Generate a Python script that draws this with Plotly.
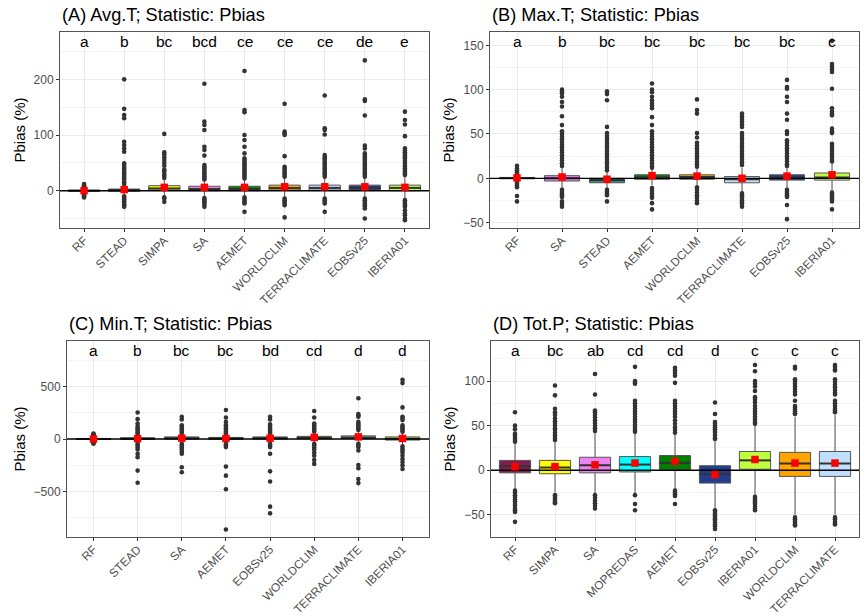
import plotly.graph_objects as go

W, H = 867, 616

COLORS = {
    "RF": "#7F1D4E", "STEAD": "#2F8585", "SIMPA": "#FFFF00", "SA": "#EE82EE",
    "MOPREDAS": "#00FFFF", "AEMET": "#008000", "EOBSv25": "#223D8E",
    "IBERIA01": "#C0FF3E", "WORLDCLIM": "#FFA500", "TERRACLIMATE": "#BFDFFF",
}

# ---------------- Panel A: Avg.T ----------------
a_title = "(A) Avg.T; Statistic: Pbias"
a_cats = ["RF", "STEAD", "SIMPA", "SA", "AEMET", "WORLDCLIM", "TERRACLIMATE", "EOBSv25", "IBERIA01"]
a_letters = ["a", "b", "bc", "bcd", "ce", "ce", "ce", "de", "e"]
a_q1 = [-1, -1, 1, 0, 0, 1, 1, 1, 0]
a_med = [0, 1, 4, 3, 3, 5, 5, 5, 5]
a_q3 = [1, 3, 9, 8, 8, 10, 10, 10, 10]
a_lo = [-4, -7, -10, -11, -11, -12, -12, -12, -14]
a_hi = [4, 9, 21, 19, 19, 23, 23, 23, 24]
a_mean = [0, 2, 6, 6, 6, 7, 7, 7, 6]
a_out = [
    [12, 10, 8, 6, -6, -8, -10, -12],
    [200, 147, 136, 130, 88, 82, 76, 70, 49, 46, 43, 40, 37, 34, 31, 28, 25, 22, 19, 15, 12, -10, -13, -16, -19, -22, -25, -27, -29],
    [102, 69, 65, 60, 55, 50, 45, 38, 35, 30, 27, 23, -12, -14, -20],
    [192, 124, 118, 109, 79, 73, 63, 46, 43, 40, 37, 34, 31, 28, 25, 22, 20, -13, -16, -19, -22, -25, -29],
    [215, 145, 141, 100, 91, 79, 67, 58, 55, 52, 49, 46, 43, 40, 37, 34, 31, 28, 25, 22, -12, -15, -18, -21, -23, -38],
    [156, 106, 103, 100, 62, 43, 40, 37, 34, 31, 28, 25, -14, -17, -20, -23, -26, -48],
    [171, 112, 109, 101, 64, 61, 58, 55, 52, 49, 46, 43, 40, 37, 34, 31, 28, 25, -14, -17, -20, -23, -38],
    [234, 164, 161, 135, 81, 76, 67, 64, 61, 58, 55, 52, 49, 46, 43, 40, 37, 34, 31, 28, 25, -14, -17, -20, -23, -26, -29, -32, -50],
    [142, 127, 119, 98, 76, 72, 69, 66, 63, 60, 57, 54, 50, 46, 43, 40, 37, 34, 31, 28, -17, -20, -23, -26, -29, -35, -41, -44, -50, -53],
]

# ---------------- Panel B: Max.T ----------------
b_title = "(B) Max.T; Statistic: Pbias"
b_cats = ["RF", "SA", "STEAD", "AEMET", "WORLDCLIM", "TERRACLIMATE", "EOBSv25", "IBERIA01"]
b_letters = ["a", "b", "bc", "bc", "bc", "bc", "bc", "c"]
b_q1 = [-0.5, -3, -5, -1, -1, -5, -2, -2]
b_med = [0.3, 0, -2, 1, 1.5, -1, 1, 1]
b_q3 = [1, 3, 0, 4, 4, 2, 4, 6]
b_lo = [-3, -12, -12, -8, -8, -15, -11, -14]
b_hi = [3, 12, 7, 11, 11, 12, 13, 17]
b_mean = [0.5, 1.5, -1, 3, 2.5, 0, 2.5, 4]
b_out = [
    [14, 11, 9, 7, 5, -4, -6, -8, -10, -20, -26],
    [100, 98, 96, 92, 86, 81, 70, 60, 53, 50, 47, 44, 41, 38, 35, 32, 29, 26, 23, 20, 17, 14, -13, -15, -17, -19, -21, -26, -29, -32],
    [98, 95, 88, 58, 51, 48, 45, 42, 39, 36, 33, 30, 27, 24, 21, 18, 15, 12, 9, -13, -15, -17, -19, -26],
    [107, 100, 97, 92, 88, 85, 82, 79, 69, 60, 53, 50, 47, 44, 41, 38, 35, 32, 29, 26, 23, 20, 17, 14, 12, -11, -14, -17, -20, -22, -28, -35],
    [89, 77, 73, 51, 46, 40, 37, 34, 31, 28, 25, 22, 19, 16, 13, -10, -13, -16, -19, -22, -25, -28],
    [73, 70, 67, 64, 61, 58, 51, 48, 45, 42, 39, 36, 33, 30, 27, 24, 21, 18, 15, -17, -19, -21, -23, -25, -27, -29, -32],
    [111, 103, 101, 92, 86, 73, 66, 53, 50, 43, 40, 37, 34, 31, 28, 25, 22, 19, 16, 14, -13, -15, -17, -19, -21, -30, -46],
    [155, 129, 126, 123, 120, 101, 79, 75, 73, 71, 56, 53, 51, 39, 36, 33, 30, 27, 24, 21, 19, -16, -18, -20, -22, -24, -26, -35],
]

# ---------------- Panel C: Min.T ----------------
c_title = "(C) Min.T; Statistic: Pbias"
c_cats = ["RF", "STEAD", "SA", "AEMET", "EOBSv25", "WORLDCLIM", "TERRACLIMATE", "IBERIA01"]
c_letters = ["a", "b", "bc", "bc", "bd", "cd", "d", "d"]
c_q1 = [-5, -5, 0, -2, 0, 2, 5, -10]
c_med = [0, 3, 8, 5, 8, 12, 15, 3]
c_q3 = [5, 12, 20, 15, 20, 25, 30, 20]
c_lo = [-20, -30, -30, -28, -30, -32, -32, -55]
c_hi = [20, 35, 50, 40, 50, 60, 68, 65]
c_mean = [0, 3, 8, 5, 8, 15, 20, 5]
c_out = [
    [51, 45, 38, 32, 26, -26, -32, -38, -45],
    [253, 189, 147, 120, 105, 90, 75, 60, 50, -45, -60, -80, -100, -140, -173, -301, -417],
    [212, 186, 131, 115, 100, 85, 70, 58, -45, -60, -80, -100, -120, -141, -269, -317],
    [276, 205, 163, 131, 115, 100, 85, 70, 55, -45, -60, -77, -263, -349, -478, -862],
    [212, 186, 141, 120, 100, 85, 70, 58, -45, -60, -77, -141, -308, -404, -644, -708],
    [266, 205, 147, 130, 115, 100, 85, 70, -45, -60, -80, -100, -130, -160, -200, -237],
    [388, 237, 225, 212, 163, 145, 130, 115, 100, 85, -45, -60, -77, -109, -247, -279, -381, -420],
    [564, 532, 301, 212, 200, 180, 131, 115, 100, 85, 70, -70, -90, -110, -130, -160, -190, -220, -250, -285],
]

# ---------------- Panel D: Tot.P ----------------
d_title = "(D) Tot.P; Statistic: Pbias"
d_cats = ["RF", "SIMPA", "SA", "MOPREDAS", "AEMET", "EOBSv25", "IBERIA01", "WORLDCLIM", "TERRACLIMATE"]
d_letters = ["a", "bc", "ab", "cd", "cd", "d", "c", "c", "c"]
d_q1 = [-3, -4, -3, -2, 0.7, -14.5, 1, -7, -7]
d_med = [4.5, 3, 5.5, 6.3, 8.2, -4.5, 11, 7.5, 7.5]
d_q3 = [11, 11, 14.5, 15.3, 16.4, 5, 21, 20, 21]
d_lo = [-22, -25, -27, -27, -22, -43, -29, -50, -50]
d_hi = [30, 32, 42, 41, 40, 33, 50, 60, 62]
d_mean = [4, 4, 6, 8, 10, -5, 12, 8, 8]
d_out = [
    [65, 50, 46, 41, 39, 36, 34, 32, -23, -25, -28, -30, -33, -35, -38, -40, -43, -45, -47, -58],
    [95, 84, 69, 65, 62, 58, 55, 52, 50, 47, 45, 42, 39, 36, 34, -28, -30, -32, -34, -36, -37],
    [108, 85, 67, 65, 62, 59, 56, 53, 50, 47, 44, -28, -31, -34, -37, -40, -43],
    [116, 100, 98, 97, 78, 75, 72, 69, 66, 63, 60, 57, 54, 51, 48, 45, 43, -28, -38, -45],
    [115, 112, 109, 106, 98, 78, 75, 72, 69, 66, 63, 60, 56, 52, 48, 45, 42, -23, -25, -27, -29, -38],
    [76, 63, 54, 52, 50, 48, 46, 44, 42, 39, 36, 35, -45, -47, -49, -51, -53, -55, -57, -59, -61, -63, -66],
    [118, 111, 100, 97, 94, 89, 82, 79, 76, 72, 69, 66, 63, 60, 57, 54, 52, -30, -32, -34, -36, -38, -41, -43, -45],
    [116, 114, 102, 100, 97, 94, 91, 88, 85, 78, 72, 70, 68, 66, 64, 63, -53, -55, -57, -59, -61, -62],
    [118, 116, 113, 112, 102, 99, 96, 93, 90, 87, 85, 78, 75, 72, 69, 67, 65, -53, -55, -58, -60, -61],
]

panels = [
    dict(title=a_title, cats=a_cats, letters=a_letters, q1=a_q1, med=a_med, q3=a_q3, lo=a_lo, hi=a_hi,
         mean=a_mean, out=a_out, yrange=[-67, 285], dtick=100, mdtick=50, px=(60, 429), py=(32, 228)),
    dict(title=b_title, cats=b_cats, letters=b_letters, q1=b_q1, med=b_med, q3=b_q3, lo=b_lo, hi=b_hi,
         mean=b_mean, out=b_out, yrange=[-56, 165], dtick=50, mdtick=25, px=(490, 859), py=(32, 228)),
    dict(title=c_title, cats=c_cats, letters=c_letters, q1=c_q1, med=c_med, q3=c_q3, lo=c_lo, hi=c_hi,
         mean=c_mean, out=c_out, yrange=[-933, 933], dtick=500, mdtick=250, px=(67, 429), py=(341, 537)),
    dict(title=d_title, cats=d_cats, letters=d_letters, q1=d_q1, med=d_med, q3=d_q3, lo=d_lo, hi=d_hi,
         mean=d_mean, out=d_out, yrange=[-75, 145], dtick=50, mdtick=25, px=(491, 859), py=(341, 537)),
]

FONT = "Liberation Sans, Arial, sans-serif"
BOXW = 0.78
fig = go.Figure()
annotations = []
layout = {}

for k, p in enumerate(panels, start=1):
    xa = "x" if k == 1 else f"x{k}"
    ya = "y" if k == 1 else f"y{k}"
    n = len(p["cats"])
    pos = list(range(1, n + 1))
    for i, c in enumerate(p["cats"]):
        fig.add_trace(go.Box(
            x=[pos[i]], q1=[p["q1"][i]], median=[p["med"][i]], q3=[p["q3"][i]],
            lowerfence=[p["lo"][i]], upperfence=[p["hi"][i]],
            fillcolor=COLORS[c], line=dict(color="#555555", width=1),
            whiskerwidth=0, width=BOXW, boxpoints=False,
            xaxis=xa, yaxis=ya, showlegend=False, hoverinfo="skip"))
        # thick median bar (ggplot style)
        fig.add_trace(go.Scatter(
            x=[pos[i] - BOXW / 2, pos[i] + BOXW / 2], y=[p["med"][i], p["med"][i]],
            mode="lines", line=dict(color="#333333", width=2),
            xaxis=xa, yaxis=ya, showlegend=False, hoverinfo="skip"))
    for i, c in enumerate(p["cats"]):
        vals = p["out"][i]
        fig.add_trace(go.Scatter(
            x=[pos[i]] * len(vals), y=vals, mode="markers",
            marker=dict(color="#333333", size=4.6, line=dict(width=0)),
            xaxis=xa, yaxis=ya, showlegend=False, hoverinfo="skip"))
    # horizontal reference line at 0
    fig.add_trace(go.Scatter(
        x=[0.4, n + 0.6], y=[0, 0], mode="lines", line=dict(color="black", width=1.4),
        xaxis=xa, yaxis=ya, showlegend=False, hoverinfo="skip"))
    fig.add_trace(go.Scatter(
        x=pos, y=p["mean"], mode="markers",
        marker=dict(color="red", symbol="square", size=7.5, line=dict(width=0)),
        xaxis=xa, yaxis=ya, showlegend=False, hoverinfo="skip"))

    x0, x1 = p["px"]
    y0, y1 = p["py"]
    xkey = "xaxis" if k == 1 else f"xaxis{k}"
    ykey = "yaxis" if k == 1 else f"yaxis{k}"
    layout[xkey] = dict(
        domain=[x0 / W, x1 / W], anchor=ya, range=[0.4, n + 0.6],
        tickmode="array", tickvals=pos, ticktext=p["cats"], tickangle=-45,
        showgrid=True, gridcolor="#EBEBEB", gridwidth=1, zeroline=False,
        showline=True, mirror=True, linecolor="#555555", linewidth=1,
        ticks="outside", ticklen=3, tickcolor="#333333", ticklabelstandoff=-3,
        tickfont=dict(family=FONT, size=11.8, color="#4D4D4D"), automargin=False)
    layout[ykey] = dict(
        domain=[1 - y1 / H, 1 - y0 / H], anchor=xa, range=p["yrange"],
        tick0=0, dtick=p["dtick"],
        minor=dict(dtick=p["mdtick"], showgrid=True, gridcolor="#F4F4F4", gridwidth=0.8, ticks=""),
        showgrid=True, gridcolor="#EBEBEB", gridwidth=1, zeroline=False,
        showline=True, mirror=True, linecolor="#555555", linewidth=1,
        ticks="outside", ticklen=3, tickcolor="#333333",
        tickfont=dict(family=FONT, size=12, color="#4D4D4D"),
        title=dict(text="Pbias (%)", font=dict(family=FONT, size=15, color="black"), standoff=4),
        automargin=False)
    annotations.append(dict(
        text=p["title"], xref="paper", yref="paper", x=x0 / W, y=1 - (y0 - 17) / H,
        xanchor="left", yanchor="middle", showarrow=False,
        font=dict(family=FONT, size=18.2, color="black")))
    for i, let in enumerate(p["letters"]):
        annotations.append(dict(
            text=let, xref=xa, yref=f"{ya} domain", x=pos[i], y=0.95,
            xanchor="center", yanchor="middle", showarrow=False,
            font=dict(family=FONT, size=15.5, color="black")))

fig.update_layout(
    width=W, height=H, margin=dict(l=0, r=0, t=0, b=0),
    paper_bgcolor="white", plot_bgcolor="white",
    annotations=annotations, showlegend=False, **layout)

fig.write_html("out.html")
